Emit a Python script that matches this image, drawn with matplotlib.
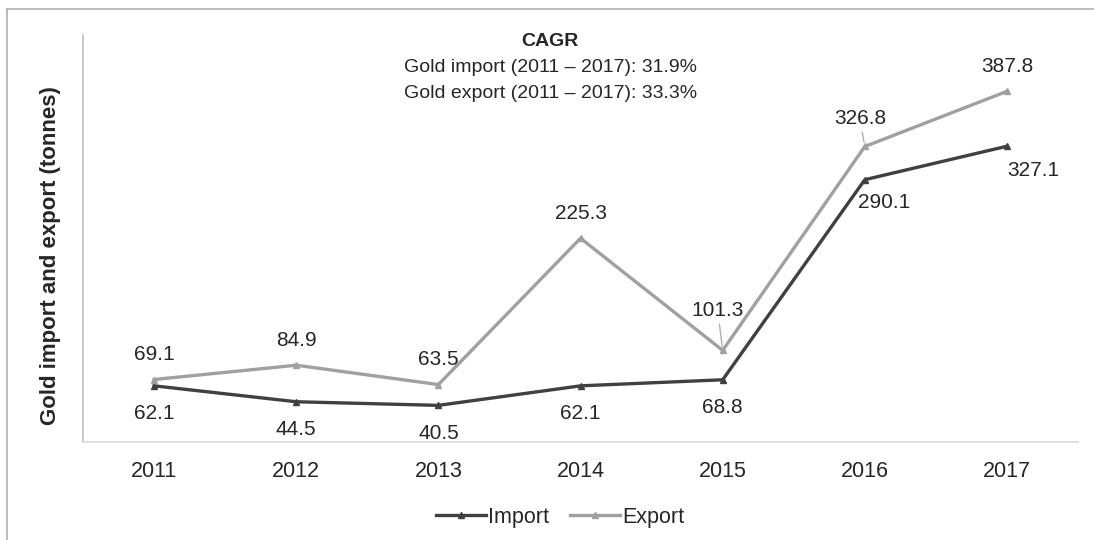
import matplotlib
matplotlib.use("Agg")
import matplotlib.pyplot as plt
from matplotlib.lines import Line2D

plt.rcParams["font.family"] = ["Liberation Sans", "DejaVu Sans"]

# ── Data ───────────────────────────────────────────────────────────────────────
years       = ["2011", "2012", "2013", "2014", "2015", "2016", "2017"]
gold_import = [62.1, 44.5, 40.5, 62.1, 68.8, 290.1, 327.1]
gold_export = [69.1, 84.9, 63.5, 225.3, 101.3, 326.8, 387.8]
cagr_lines  = ["Gold import (2011 – 2017): 31.9%",
               "Gold export (2011 – 2017): 33.3%"]

# ── Style ──────────────────────────────────────────────────────────────────────
C_IMPORT = "#404040"
C_EXPORT = "#a0a0a0"
C_TEXT   = "#262626"
FS_LAB   = 15      # data labels
FS_TICK  = 15.5
FS_NOTE  = 14

# label offsets in pixels (dx, dy); leader line drawn where flagged
EXPORT_OFF = {4: (-5, 40, True), 5: (-5, 28, True)}
IMPORT_OFF = {5: (19, -23, False), 6: (26, -24, False)}

fig = plt.figure(figsize=(10.94, 5.40), dpi=100)
ax = fig.add_axes([0.0759, 0.1815, 0.9095, 0.7535])

x = list(range(len(years)))
ax.plot(x, gold_import, color=C_IMPORT, lw=2.4, marker="^", ms=5, label="Import")
ax.plot(x, gold_export, color=C_EXPORT, lw=2.4, marker="^", ms=5, label="Export")

ax.set_xlim(-0.5, len(years) - 0.5)
ax.set_ylim(0, 450)
ax.set_xticks(x)
ax.set_xticklabels(years, fontsize=FS_TICK, color=C_TEXT)
ax.tick_params(axis="x", length=0, pad=14)
ax.set_yticks([])
for s in ("top", "right"):
    ax.spines[s].set_visible(False)
ax.spines["left"].set_color("#bfbfbf")
ax.spines["bottom"].set_color("#d9d9d9")
ax.spines["left"].set_linewidth(1.2)
ax.spines["bottom"].set_linewidth(1.2)

ax.set_ylabel("Gold import and export (tonnes)", fontsize=16, fontweight="bold",
              color=C_TEXT, va="center")
ax.yaxis.set_label_coords(-0.0332, 0.459)


def label_points(values, offsets, default_dy, leader_color):
    for i, v in enumerate(values):
        dx, dy, leader = offsets.get(i, (0, default_dy, False))
        arrow = None
        if leader:
            arrow = dict(arrowstyle="-", color=leader_color, lw=1.0,
                         shrinkA=1, shrinkB=3)
        ax.annotate(f"{v:.1f}", (i, v), xytext=(dx, dy),
                    textcoords="offset pixels", ha="center", va="center",
                    fontsize=FS_LAB, color=C_TEXT, arrowprops=arrow)


label_points(gold_export, EXPORT_OFF, 25, "#b0b0b0")
label_points(gold_import, IMPORT_OFF, -28, "#b0b0b0")

# CAGR note
fig.text(0.503, 1 - 42 / 540, "CAGR", ha="center", va="center",
         fontsize=FS_NOTE, fontweight="bold", color=C_TEXT)
for k, line in enumerate(cagr_lines):
    fig.text(0.503, 1 - (68 + 25 * k) / 540, line, ha="center", va="center",
             fontsize=FS_NOTE, color=C_TEXT)

leg = fig.legend(loc="center", bbox_to_anchor=(0.512, 1 - 517 / 540), ncol=2,
                 frameon=False, fontsize=FS_TICK, handlelength=2.3,
                 columnspacing=1.0, handletextpad=0.1)
for t in leg.get_texts():
    t.set_color(C_TEXT)

# outer frame (left and top edges only)
fig.add_artist(Line2D([7 / 1094, 7 / 1094], [0, 1 - 9 / 540],
                      transform=fig.transFigure, color="#b0b0b0", lw=1.2))
fig.add_artist(Line2D([7 / 1094, 1], [1 - 9 / 540, 1 - 9 / 540],
                      transform=fig.transFigure, color="#b0b0b0", lw=1.2))

fig.savefig("out.png", dpi=100)
